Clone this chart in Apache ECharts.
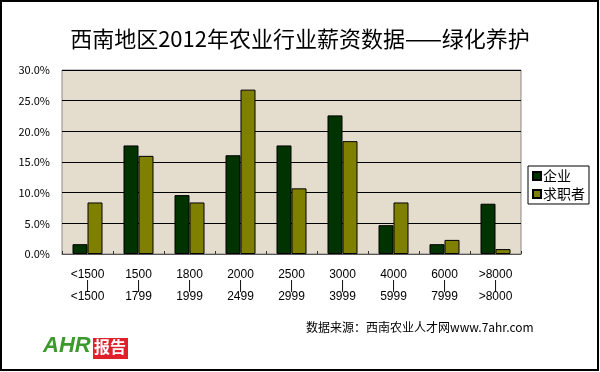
<!DOCTYPE html>
<html><head><meta charset="utf-8">
<script src="https://cdn.jsdelivr.net/npm/echarts@6/dist/echarts.min.js"></script>
<style>html,body{margin:0;padding:0;background:#fff}#c{width:600px;height:372px}</style>
</head><body><div id="c"></div>
<script>
const categories = ['<1500\n|\n<1500','1500\n|\n1799','1800\n|\n1999','2000\n|\n2499','2500\n|\n2999','3000\n|\n3999','4000\n|\n5999','6000\n|\n7999','>8000\n|\n>8000'];
const enterprise = [1.6, 17.7, 9.6, 16.1, 17.7, 22.6, 4.7, 1.6, 8.2];
const seekers = [8.4, 16.0, 8.4, 26.8, 10.7, 18.4, 8.4, 2.3, 0.8];
const seriesNames = ['企业', '求职者'];
const titleText = '西南地区2012年农业行业薪资数据——绿化养护';
const sourceText = '数据来源：西南农业人才网www.7ahr.com';

const chart = echarts.init(document.getElementById('c'));
const cjk = '"Noto Sans CJK SC", sans-serif';
chart.setOption({
  backgroundColor: '#fff',
  animation: false,
  title: {text: titleText, left: 'center', top: 23, textStyle: {fontFamily: cjk, fontSize: 22, fontWeight: 'normal', color: '#000'}},
  grid: {left: 62, right: 79, top: 70, bottom: 118, show: true, backgroundColor: '#e4dccc', borderColor: '#8a8a8a', borderWidth: 1},
  legend: {
    orient: 'vertical', left: 528, top: 166, width: 59,
    data: seriesNames,
    itemWidth: 8, itemHeight: 8, itemGap: 4,
    padding: [3, 4, 3, 4],
    borderColor: '#000', borderWidth: 1, backgroundColor: '#fff',
    textStyle: {fontFamily: cjk, fontSize: 14, color: '#000', padding: [0,0,0,-3]},
    icon: 'rect'
  },
  xAxis: {
    type: 'category', data: categories,
    axisLine: {lineStyle: {color: '#555', width: 1}},
    axisTick: {show: true, inside: true, length: 3, lineStyle: {color: '#333'}},
    axisLabel: {fontFamily: 'Liberation Sans, sans-serif', fontSize: 12, color: '#000', lineHeight: 11, margin: 15, interval: 0}
  },
  yAxis: {
    type: 'value', min: 0, max: 30, interval: 5,
    axisLine: {show: false}, axisTick: {show: false},
    splitLine: {lineStyle: {color: '#000', width: 1}},
    axisLabel: {formatter: v => v.toFixed(1) + '%', fontFamily: cjk, fontSize: 11, color: '#000', margin: 12}
  },
  series: [
    {name: seriesNames[0], type: 'bar', data: enterprise, barWidth: 15, barGap: '0%',
     itemStyle: {color: '#003300', borderColor: '#000', borderWidth: 1}},
    {name: seriesNames[1], type: 'bar', data: seekers, barWidth: 15,
     itemStyle: {color: '#808000', borderColor: '#000', borderWidth: 1}}
  ],
  graphic: [
    {type: 'rect', shape: {x: 1, y: 1, width: 597, height: 369}, style: {fill: 'none', stroke: '#000', lineWidth: 2}, silent: true},
    {type: 'text', left: 306, top: 321, style: {text: sourceText, font: '12px "Noto Sans CJK SC", sans-serif', fill: '#000'}},
    {type: 'text', left: 43, top: 335, style: {text: 'AHR', font: 'italic bold 22px "Liberation Sans", sans-serif', fill: '#3a9a2a'}},
    {type: 'rect', shape: {x: 93, y: 338, width: 35, height: 21}, style: {fill: '#e0202a'}},
    {type: 'text', left: 94, top: 339, style: {text: '报告', font: 'bold 16px "Noto Sans CJK SC", sans-serif', fill: '#fff'}}
  ]
});
</script></body></html>
